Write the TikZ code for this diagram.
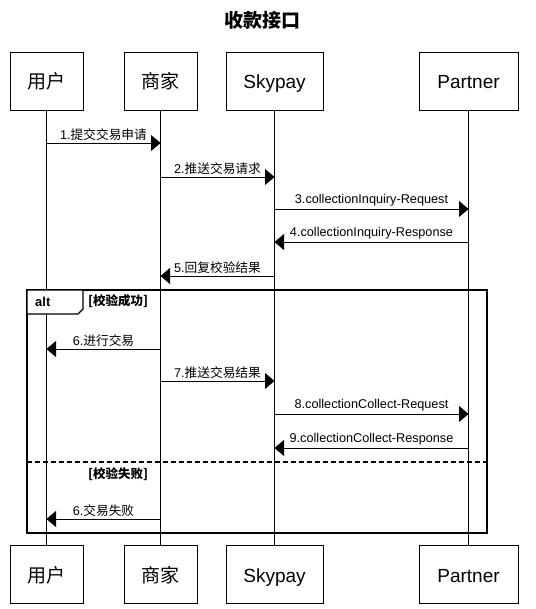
\documentclass[tikz,border=0pt]{standalone}
\usepackage{fontspec}
\setmainfont{Liberation Sans}
\newfontfamily\cjk{Noto Sans CJK SC}
\usetikzlibrary{arrows.meta}

\begin{document}
\begin{tikzpicture}[x=1pt,y=-1pt,
  actor/.style={draw,fill=white,inner sep=0pt,minimum height=58pt,text height=18pt,text depth=2pt,font=\fontsize{19}{22}\selectfont},
  msg/.style={-{Triangle[length=9.5pt,width=16pt]},line width=0.8pt},
  msg label/.style={above,inner sep=2pt,font=\fontsize{12.7}{14}\selectfont},
  guard/.style={anchor=west,inner sep=0pt,font=\bfseries\fontsize{12.5}{14}\selectfont\cjk}]
  \useasboundingbox (0,0) rectangle (535,609);
  \node[font=\bfseries\fontsize{19}{22}\selectfont\cjk] (title) at (262,20) {收款接口};
  % actors, top and bottom
  \node[actor,minimum width=73pt] (u1) at (46.5,81) {\cjk 用户};
  \node[actor,minimum width=73pt] (s1) at (160.5,81) {\cjk 商家};
  \node[actor,minimum width=97pt] (k1) at (274.5,81) {Skypay};
  \node[actor,minimum width=99pt] (p1) at (468.5,81) {Partner};
  \node[actor,minimum width=73pt] (u2) at (46.5,574.5) {\cjk 用户};
  \node[actor,minimum width=73pt] (s2) at (160.5,574.5) {\cjk 商家};
  \node[actor,minimum width=97pt] (k2) at (274.5,574.5) {Skypay};
  \node[actor,minimum width=99pt] (p2) at (468.5,574.5) {Partner};
  \foreach \n in {u,s,k,p}
    \draw[line width=0.8pt] (\n1.south) -- (\n2.north);
  % messages
  \foreach \y/\a/\b/\t in {143/u1/s1/{1.{\cjk 提交交易申请}},
      177/s1/k1/{2.{\cjk 推送交易请求}},
      209/k1/p1/{3.collectionInquiry-Request},
      242/p1/k1/{4.collectionInquiry-Response},
      276/k1/s1/{5.{\cjk 回复校验结果}},
      349/s1/u1/{6.{\cjk 进行交易}},
      381/s1/k1/{7.{\cjk 推送交易结果}},
      414/k1/p1/{8.collectionCollect-Request},
      448/p1/k1/{9.collectionCollect-Response},
      519/s1/u1/{6.{\cjk 交易失败}}}
    \draw[msg] (\a |- 0,\y) -- node[msg label] {\t} (\b |- 0,\y);
  % alt frame
  \coordinate (alt nw) at (27,290);
  \coordinate (alt se) at (487,533);
  \draw[line width=1.6pt] (alt nw) rectangle (alt se);
  \draw[line width=1.2pt,fill=white] (alt nw) -- ++(56,0) -- ++(0,19) -- ++(-5,5) -- ++(-51,0) -- cycle;
  \node[anchor=west,inner sep=0pt,font=\bfseries\fontsize{13}{15}\selectfont] (alt) at (35,302) {alt};
  \node[guard] (ok) at (88,301) {[校验成功]};
  \draw[line width=1.5pt,dash pattern=on 5pt off 3pt] (alt nw |- 0,462) -- (alt se |- 0,462);
  \node[guard] (fail) at (88,474) {[校验失败]};
\end{tikzpicture}
\end{document}
